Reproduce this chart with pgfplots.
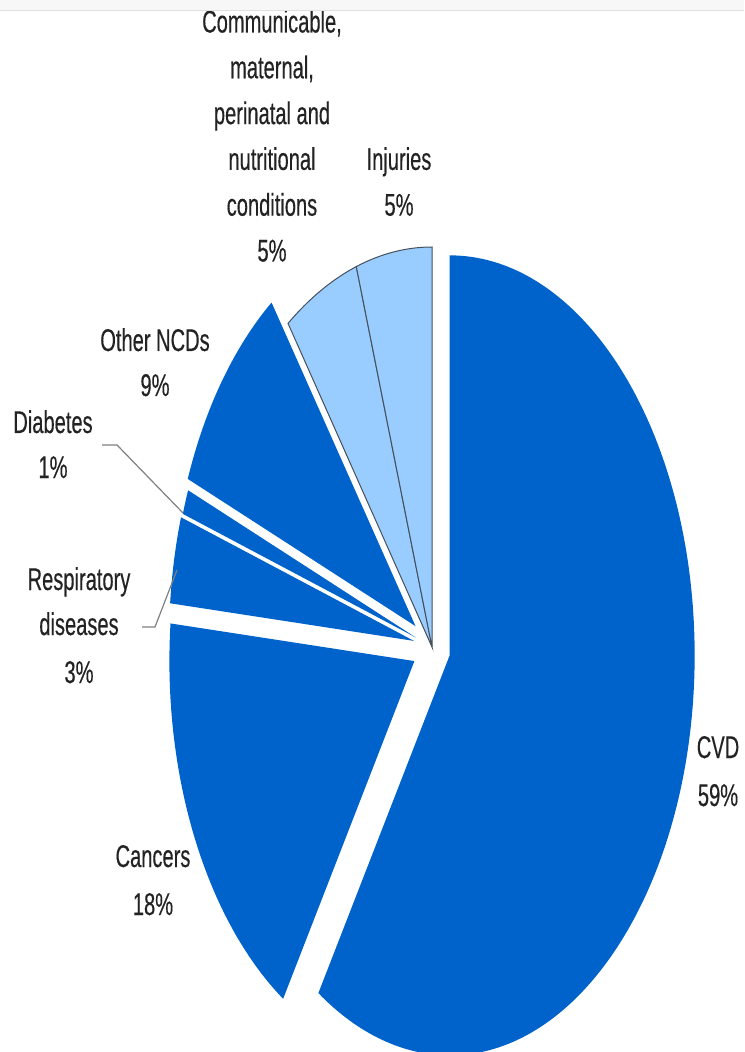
\documentclass[border=0pt]{standalone}
\usepackage{pgfplots}
\pgfplotsset{compat=1.18}
\usepackage{pgfplotstable}
\usepackage{fontspec}
\setmainfont[FakeStretch=0.64,FakeBold=0.35]{Liberation Sans}
\definecolor{darkblue}{RGB}{0,99,204}
\definecolor{lightblue}{RGB}{153,204,255}
\definecolor{txt}{RGB}{35,35,35}
\definecolor{edge}{RGB}{70,80,90}
\newcommand\lf{\fontsize{15.7}{18}\selectfont}

% value = share of deaths (%), explode = offset as fraction of radius, shade 1 = dark, 0 = light
\pgfplotstableread{
label value explode shade
CVD 59 0.075 1
Cancers 17.5 0.08 1
Respiratory 3.5 0.075 1
Diabetes 1 0.07 1
OtherNCDs 9 0.085 1
Communicable 5 0 0
Injuries 5 0 0
}\piedata

\begin{document}
\begin{tikzpicture}
\begin{axis}[width=372pt,height=526pt,scale only axis,
  xmin=0,xmax=744,ymin=0,ymax=1052,y dir=reverse,
  hide axis,clip=false]
\addplot[draw=none] coordinates {(0,0) (744,1052)};

\pgfplotstablegetrowsof{\piedata}
\pgfmathtruncatemacro{\nrows}{\pgfplotsretval-1}
\def\cum{0}
\pgfplotsforeachungrouped \i in {0,...,\nrows}{%
  \pgfplotstablegetelem{\i}{value}\of{\piedata}\let\v\pgfplotsretval
  \pgfplotstablegetelem{\i}{explode}\of{\piedata}\let\ex\pgfplotsretval
  \pgfplotstablegetelem{\i}{shade}\of{\piedata}\let\sh\pgfplotsretval
  \pgfmathsetmacro{\aone}{90-3.6*\cum}%
  \pgfmathsetmacro{\atwo}{90-3.6*(\cum+\v)}%
  \pgfmathsetmacro{\amid}{(\aone+\atwo)/2}%
  \pgfmathsetmacro{\exx}{\ex*122.5}%
  \pgfmathsetmacro{\exy}{\ex*200}%
  \pgfmathsetmacro{\newcum}{\cum+\v}%
  \let\cum\newcum
  \ifnum\sh=1
    \edef\temp{\noexpand\fill[darkblue] ([shift={(\amid:\exx pt and \exy pt)}]axis cs:432,647) -- ++(\aone:122.5pt and 200pt) arc[start angle=\aone,end angle=\atwo,x radius=122.5pt,y radius=200pt] -- cycle;}%
  \else
    \edef\temp{\noexpand\filldraw[fill=lightblue,draw=edge,line width=0.5pt] ([shift={(\amid:\exx pt and \exy pt)}]axis cs:432,647) -- ++(\aone:122.5pt and 200pt) arc[start angle=\aone,end angle=\atwo,x radius=122.5pt,y radius=200pt] -- cycle;}%
  \fi
  \temp
}

% leader lines
\draw[gray,line width=0.6pt] (axis cs:102,445) -- (axis cs:117,445) -- (axis cs:183,513);
\draw[gray,line width=0.6pt] (axis cs:142,627) -- (axis cs:155,627) -- (axis cs:177,570);

% labels
\node[anchor=base,text=txt,font=\lf] at (axis cs:272,32.5) {Communicable,};
\node[anchor=base,text=txt,font=\lf] at (axis cs:272,78.3) {maternal,};
\node[anchor=base,text=txt,font=\lf] at (axis cs:272,124.1) {perinatal and};
\node[anchor=base,text=txt,font=\lf] at (axis cs:272,169.9) {nutritional};
\node[anchor=base,text=txt,font=\lf] at (axis cs:272,215.7) {conditions};
\node[anchor=base,text=txt,font=\lf] at (axis cs:272,261.5) {5\%};
\node[anchor=base,text=txt,font=\lf] at (axis cs:399,169.9) {Injuries};
\node[anchor=base,text=txt,font=\lf] at (axis cs:399,215.7) {5\%};
\node[anchor=base,text=txt,font=\lf] at (axis cs:155,351) {Other NCDs};
\node[anchor=base,text=txt,font=\lf] at (axis cs:155,396) {9\%};
\node[anchor=base,text=txt,font=\lf] at (axis cs:53,433) {Diabetes};
\node[anchor=base,text=txt,font=\lf] at (axis cs:53,478) {1\%};
\node[anchor=base,text=txt,font=\lf] at (axis cs:79,590) {Respiratory};
\node[anchor=base,text=txt,font=\lf] at (axis cs:79,635) {diseases};
\node[anchor=base,text=txt,font=\lf] at (axis cs:79,683) {3\%};
\node[anchor=base,text=txt,font=\lf] at (axis cs:718,758) {CVD};
\node[anchor=base,text=txt,font=\lf] at (axis cs:718,806) {59\%};
\node[anchor=base,text=txt,font=\lf] at (axis cs:153,867) {Cancers};
\node[anchor=base,text=txt,font=\lf] at (axis cs:153,915) {18\%};

% top band of the page
\fill[gray!6] (axis cs:0,0) rectangle (axis cs:744,11);
\draw[gray!25,line width=0.5pt] (axis cs:0,11) -- (axis cs:744,11);
\end{axis}
\pgfresetboundingbox
\path (current axis.south west) rectangle (current axis.north east);
\end{tikzpicture}
\end{document}
